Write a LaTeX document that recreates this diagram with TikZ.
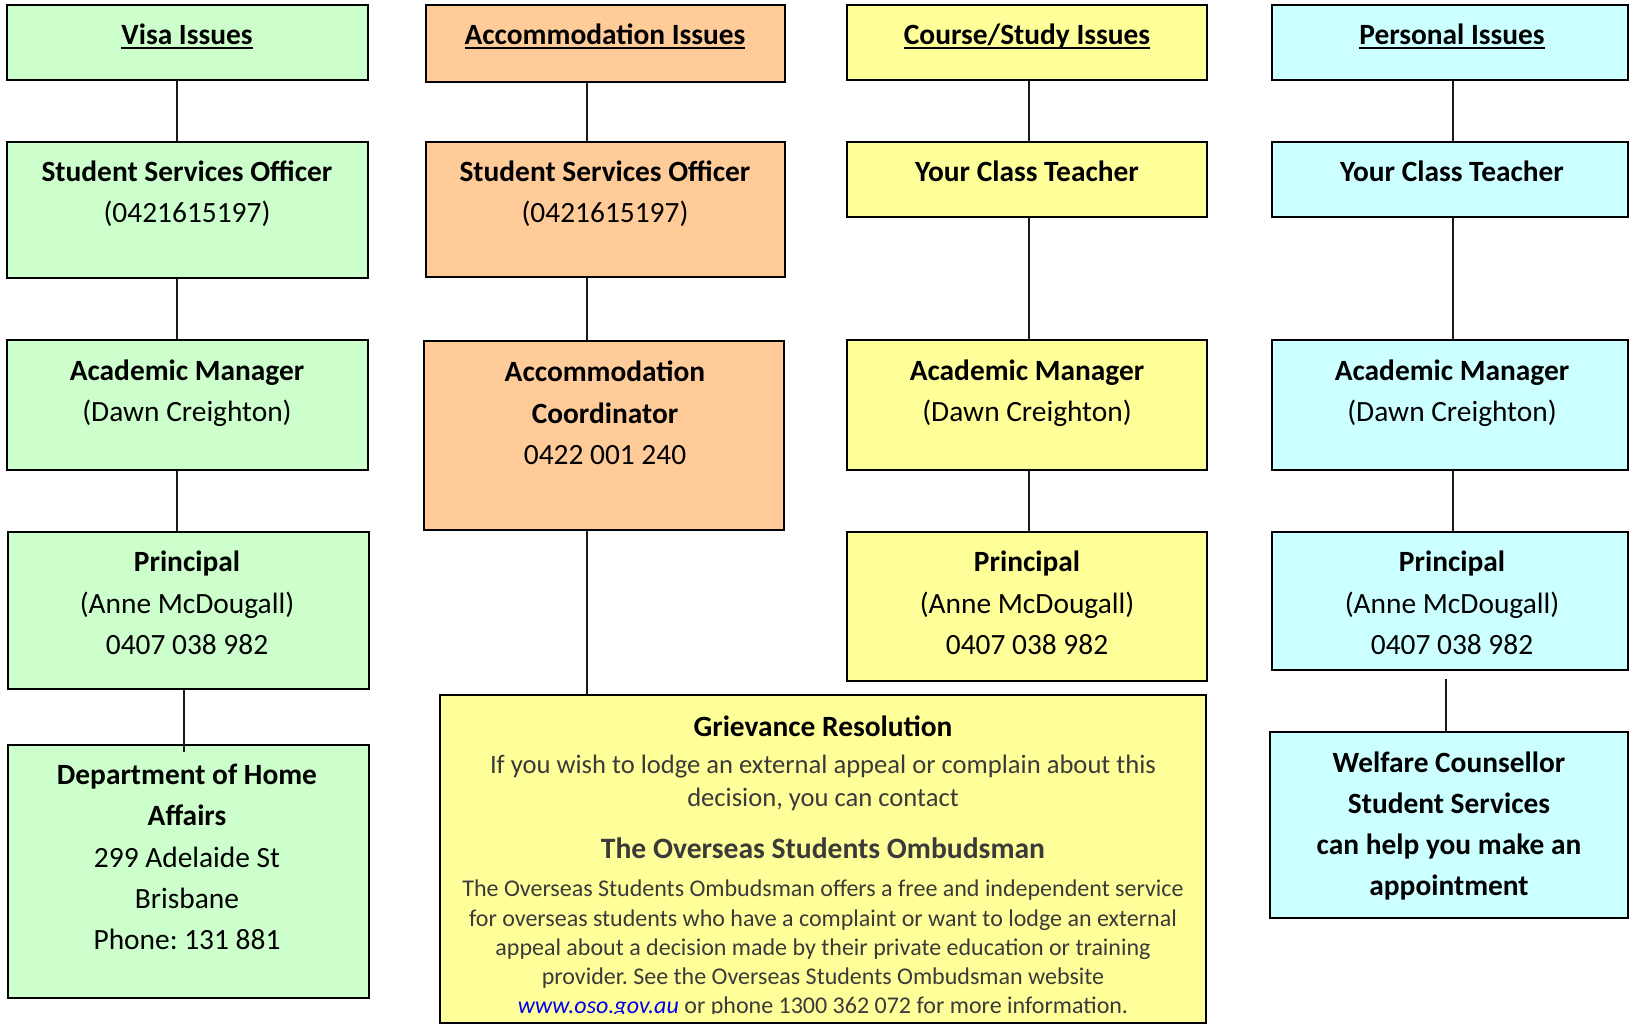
\documentclass[tikz,border=0pt]{standalone}
\usepackage{fontspec}
\setmainfont{Carlito}
\usetikzlibrary{fit,positioning}

\definecolor{visagreen}{HTML}{CCFFCC}
\definecolor{accomorange}{HTML}{FFCC99}
\definecolor{courseyellow}{HTML}{FFFF99}
\definecolor{personalcyan}{HTML}{CCFFFF}
\definecolor{osogray}{HTML}{3A3A3A}
\definecolor{osoblue}{HTML}{0000EE}

% underline at a fixed depth, as in the headings
\newcommand{\headul}[1]{\vtop{\hbox{\raisebox{0pt}[\height][0pt]{#1}}\kern1.6pt\hrule height 0.9pt}}
\frenchspacing

\tikzset{
  box/.style={draw, line width=1pt, inner sep=0pt},
  txt/.style={align=center, inner sep=0pt, font=\fontsize{14.7}{20.65}\selectfont},
  head/.style={txt, anchor=base, font=\fontsize{14.7}{20.65}\selectfont\bfseries},
  link/.style={line width=0.75pt, draw=black!90},
}

\begin{document}
\begin{tikzpicture}[x=0.5pt,y=-0.5pt]
  \useasboundingbox (0,0) rectangle (1629,1025);
  % boxes
  \node[box,fill=visagreen,fit={(7,5) (368,80)}] (visa) {};
  \node[box,fill=visagreen,fit={(7,142) (368,278)}] (ssoa) {};
  \node[box,fill=visagreen,fit={(7,340) (368,470)}] (ama) {};
  \node[box,fill=visagreen,fit={(8,532) (369,689)}] (pra) {};
  \node[box,fill=visagreen,fit={(8,745) (369,998)}] (dha) {};
  \node[box,fill=accomorange,fit={(426,5) (785,82)}] (accom) {};
  \node[box,fill=accomorange,fit={(426,142) (785,277)}] (ssob) {};
  \node[box,fill=accomorange,fit={(424,341) (784,530)}] (coord) {};
  \node[box,fill=courseyellow,fit={(847,5) (1207,80)}] (course) {};
  \node[box,fill=courseyellow,fit={(847,142) (1207,217)}] (yctc) {};
  \node[box,fill=courseyellow,fit={(847,340) (1207,470)}] (amc) {};
  \node[box,fill=courseyellow,fit={(847,532) (1207,681)}] (prc) {};
  \node[box,fill=personalcyan,fit={(1272,5) (1628,80)}] (pers) {};
  \node[box,fill=personalcyan,fit={(1272,142) (1628,217)}] (yctd) {};
  \node[box,fill=personalcyan,fit={(1272,340) (1628,470)}] (amd) {};
  \node[box,fill=personalcyan,fit={(1272,532) (1628,670)}] (prd) {};
  \node[box,fill=personalcyan,fit={(1270,732) (1628,918)}] (welf) {};
  \node[box,fill=courseyellow,fit={(440,695) (1206,1023)}] (grv) {};

  % connectors
  \draw[link] (visa.south -| 177,0) -- (ssoa.north -| 177,0);
  \draw[link] (ssoa.south -| 177,0) -- (ama.north -| 177,0);
  \draw[link] (ama.south -| 177,0) -- (pra.north -| 177,0);
  \draw[link] (pra.south -| 184,0) -- (dha.north -| 184,0) -- ++(0,8);
  \draw[link] (accom.south -| 587,0) -- (ssob.north -| 587,0);
  \draw[link] (ssob.south -| 587,0) -- (coord.north -| 587,0);
  \draw[link] (coord.south -| 587,0) -- (grv.north -| 587,0);
  \draw[link] (course.south -| 1029,0) -- (yctc.north -| 1029,0);
  \draw[link] (yctc.south -| 1029,0) -- (amc.north -| 1029,0);
  \draw[link] (amc.south -| 1029,0) -- (prc.north -| 1029,0);
  \draw[link] (pers.south -| 1453,0) -- (yctd.north -| 1453,0);
  \draw[link] (yctd.south -| 1453,0) -- (amd.north -| 1453,0);
  \draw[link] (amd.south -| 1453,0) -- (prd.north -| 1453,0);
  \draw[link] (prd.south -| 1446,0) ++(0,8) -- (welf.north -| 1446,0);

  % texts
  \node[head] (visa-t) at (187,44) {\headul{Visa Issues}};
  \node[head] (accom-t) at (605,44) {\headul{Accommodation Issues}};
  \node[head] (course-t) at (1027,44) {\headul{Course/Study Issues}};
  \node[head] (pers-t) at (1452,44) {\headul{Personal Issues}};
  \node[txt] (ssoa-t) at (187,194) {\textbf{Student Services Officer}\\(0421615197)};
  \node[txt] (ssob-t) at (605,194) {\textbf{Student Services Officer}\\(0421615197)};
  \node[txt] (yctc-t) at (1027,171) {\textbf{Your Class Teacher}};
  \node[txt] (yctd-t) at (1452,171) {\textbf{Your Class Teacher}};
  \node[txt] (ama-t) at (187,393) {\textbf{Academic Manager}\\(Dawn Creighton)};
  \node[txt] (coord-t) at (605,413) {\textbf{Accommodation}\\\textbf{Coordinator}\\0422 001 240};
  \node[txt] (amc-t) at (1027,393) {\textbf{Academic Manager}\\(Dawn Creighton)};
  \node[txt] (amd-t) at (1452,393) {\textbf{Academic Manager}\\(Dawn Creighton)};
  \node[txt] (pra-t) at (187,603) {\textbf{Principal}\\(Anne McDougall)\\0407 038 982};
  \node[txt] (prc-t) at (1027,603) {\textbf{Principal}\\(Anne McDougall)\\0407 038 982};
  \node[txt] (prd-t) at (1452,603) {\textbf{Principal}\\(Anne McDougall)\\0407 038 982};
  \node[txt] (dha-t) at (187,857) {\textbf{Department of Home}\\\textbf{Affairs}\\299 Adelaide St\\Brisbane\\Phone: 131 881};
  \node[txt,font=\fontsize{14.7}{20.65}\selectfont\bfseries] (welf-t) at (1449,826)
    {Welfare Counsellor\\Student Services\\can help you make an\\appointment};

  % grievance box
  \node[txt] (grv-h) at (823,726) {\textbf{Grievance Resolution}};
  \node[txt,text=osogray,font=\fontsize{13.3}{16.5}\selectfont] (grv-i) at (823,783)
    {If you wish to lodge an external appeal or complain about this\\decision, you can contact};
  \node[txt,text=osogray,font=\fontsize{14.8}{18}\selectfont\bfseries] (grv-o) at (823,848)
    {The Overseas Students Ombudsman};
  \begin{scope}
    \clip (440,695) rectangle (1206,1013);
    \node[txt,text=osogray,font=\fontsize{12}{14.6}\selectfont] (grv-b) at (823,949)
      {The Overseas Students Ombudsman offers a free and independent service\\
       for overseas students who have a complaint or want to lodge an external\\
       appeal about a decision made by their private education or training\\
       provider. See the Overseas Students Ombudsman website\\
       {\color{osoblue}\itshape www.oso.gov.au} or phone 1300 362 072 for more information.};
  \end{scope}
\end{tikzpicture}
\end{document}
